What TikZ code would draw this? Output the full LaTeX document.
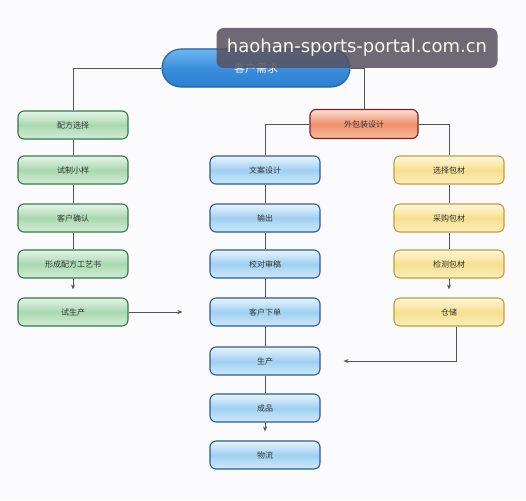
\documentclass[tikz,border=0pt]{standalone}
\usepackage{fontspec}
\newfontfamily\cjk{Noto Sans CJK SC}
\newfontfamily\wmfont{DejaVu Sans}
\usetikzlibrary{arrows.meta}
\definecolor{bgc}{HTML}{FBFBFD}
\definecolor{linec}{HTML}{555555}
\definecolor{gdraw}{HTML}{2F7A45}\definecolor{gtop}{HTML}{E6F4E6}\definecolor{gmid}{HTML}{A9D8B2}\definecolor{gbot}{HTML}{D4ECD6}
\definecolor{bdraw}{HTML}{2A5A98}\definecolor{btop}{HTML}{E8F4FD}\definecolor{bmid}{HTML}{9FD0F2}\definecolor{bbot}{HTML}{CFE8F9}
\definecolor{ydraw}{HTML}{C99A3C}\definecolor{ytop}{HTML}{FFF8DC}\definecolor{ymid}{HTML}{F6DF8F}\definecolor{ybot}{HTML}{FBEEC0}
\definecolor{rdraw}{HTML}{7A1E1E}\definecolor{rtop}{HTML}{FDE0D0}\definecolor{rmid}{HTML}{F0906C}\definecolor{rbot}{HTML}{F7B89A}
\definecolor{tdraw}{HTML}{1F5F9F}\definecolor{ttop}{HTML}{6FB6EE}\definecolor{tmid}{HTML}{3A8EDE}\definecolor{tbot}{HTML}{2F7FD0}
\definecolor{wmc}{HTML}{57505F}
\definecolor{wmtext}{HTML}{FAF8F0}
\begin{document}
\begin{tikzpicture}[x=1pt,y=-1pt,
  box/.style={rounded corners=6pt, minimum width=110pt, minimum height=28pt, line width=1.1pt, inner sep=0pt,
    font=\cjk\fontsize{8}{9}\selectfont, text=black!80},
  gbox/.style={box, draw=gdraw, top color=gtop, bottom color=gbot, middle color=gmid},
  bbox/.style={box, draw=bdraw, top color=btop, bottom color=bbot, middle color=bmid},
  ybox/.style={box, draw=ydraw, top color=ytop, bottom color=ybot, middle color=ymid},
  rbox/.style={box, draw=rdraw, top color=rtop, bottom color=rbot, middle color=rmid},
  topbox/.style={rounded corners=19pt, minimum width=188pt, minimum height=38pt, line width=1.1pt, inner sep=0pt,
    draw=tdraw, top color=ttop, bottom color=tbot, middle color=tmid, text=white, font=\cjk\fontsize{11}{12}\selectfont},
  conn/.style={draw=linec, line width=0.8pt},
  arr/.style={conn, -{Stealth[length=5pt,width=4pt]}},
  wmbox/.style={fill=wmc, fill opacity=0.85, text opacity=1, rounded corners=7pt, minimum width=281pt, minimum height=40pt,
    inner sep=0pt, text=wmtext, font=\wmfont\fontsize{18}{20}\selectfont}
]
\useasboundingbox (0,0) rectangle (526,500);
\fill[bgc] (0,0) rectangle (526,500);

\node[topbox, text depth=-6pt] (top) at (256,68) {客户需求};
\node[rbox, minimum width=108pt, minimum height=29pt] (r) at (364,124) {外包装设计};

\node[gbox] (f1) at (73,125) {配方选择};
\node[gbox] (f2) at (73,170) {试制小样};
\node[gbox] (f3) at (73,218) {客户确认};
\node[gbox] (f4) at (73,264) {形成配方工艺书};
\node[gbox] (f5) at (73,312) {试生产};

\node[bbox] (b1) at (265,170) {文案设计};
\node[bbox] (b2) at (265,218) {输出};
\node[bbox] (b3) at (265,264) {校对审稿};
\node[bbox] (b4) at (265,312) {客户下单};
\node[bbox] (b5) at (265,361) {生产};
\node[bbox] (b6) at (265,408) {成品};
\node[bbox] (b7) at (265,455) {物流};

\node[ybox] (y1) at (449,170) {选择包材};
\node[ybox] (y2) at (449,218) {采购包材};
\node[ybox] (y3) at (449,264) {检测包材};
\node[ybox] (y4) at (449,312) {仓储};

\draw[conn] (top.west) -| (f1.north);
\draw[conn] (top.east) -| (r.north);
\draw[conn] (r.west) -| (b1.north);
\draw[conn] (r.east) -| (y1.north);

\draw[conn] (f1) -- (f2);
\draw[conn] (f2) -- (f3);
\draw[conn] (f3) -- (f4);
\draw[arr, shorten >=8pt] (f4) -- (f5);
\draw[arr, shorten >=27pt] (f5) -- (b4);

\draw[conn] (b1) -- (b2);
\draw[conn] (b2) -- (b3);
\draw[conn] (b3) -- (b4);
\draw[conn] (b4) -- (b5);
\draw[conn] (b5) -- (b6);
\draw[arr, shorten >=9pt] (b6) -- (b7);

\draw[conn] (y1) -- (y2);
\draw[conn] (y2) -- (y3);
\draw[arr, shorten >=8pt] (y3) -- (y4);
\draw[arr, shorten >=23pt] ([xshift=7pt]y4.south) |- (b5);

\node[wmbox] (wm) at (357,48) {haohan-sports-portal.com.cn};
\end{tikzpicture}
\end{document}
